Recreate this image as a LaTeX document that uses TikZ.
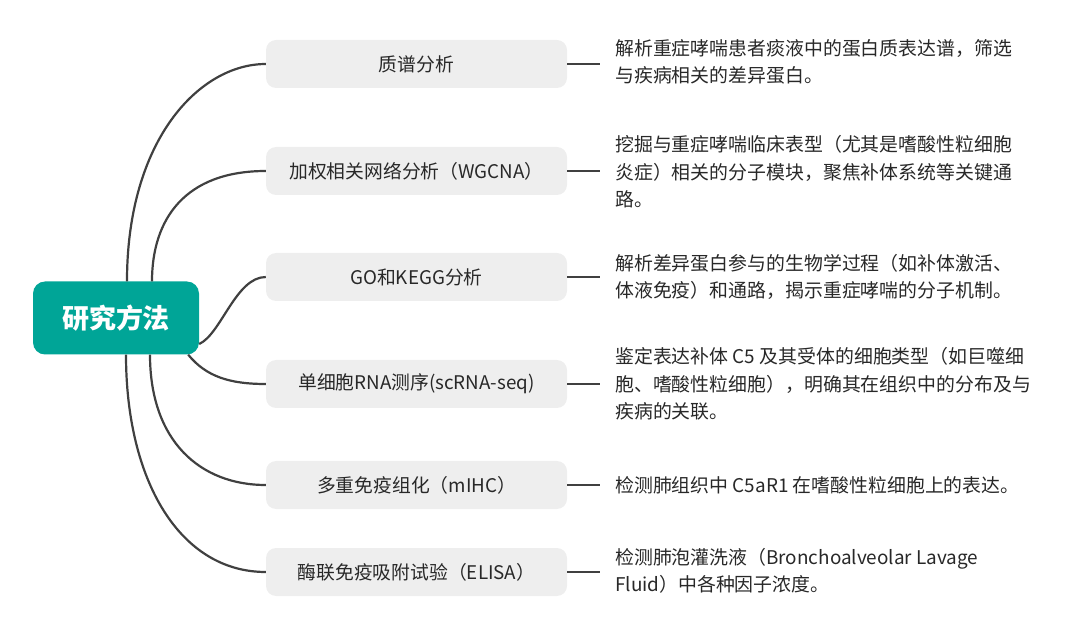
\documentclass[tikz,border=0pt]{standalone}
\usepackage{fontspec}
\setmainfont{Noto Sans CJK SC}
\usetikzlibrary{calc}
\definecolor{rootteal}{RGB}{0,165,151}
\definecolor{boxgray}{RGB}{238,238,238}
\definecolor{linegray}{RGB}{64,64,64}
\definecolor{txt}{RGB}{40,40,40}
\tikzset{
  rootbox/.style={fill=rootteal, rounded corners=12pt, minimum width=166pt, minimum height=73pt, text=white, font=\fontsize{27}{31}\selectfont\bfseries, inner sep=0pt},
  methodbox/.style={fill=boxgray, rounded corners=10pt, minimum width=301pt, minimum height=48pt, text=txt, font=\fontsize{18.8}{22}\selectfont, inner sep=0pt},
  desc/.style={anchor=west, align=left, text=txt, inner sep=0pt, font=\fontsize{18.9}{27.5}\selectfont},
  branch/.style={draw=linegray, line width=2.2pt},
  tick/.style={draw=linegray, line width=2.2pt}
}
\begin{document}
\begin{tikzpicture}[x=1pt, y=-1pt]
\useasboundingbox (0,0) rectangle (1080,636);
\node[rootbox] (root) at (116,318) {研究方法};
\node[methodbox] (b1) at (416.5,64) {质谱分析};
\node[methodbox] (b2) at (416.5,171) {加权相关网络分析（WGCNA）};
\node[methodbox] (b3) at (416.5,277) {GO和KEGG分析};
\node[methodbox] (b4) at (416.5,384) {单细胞RNA测序(scRNA-seq)};
\node[methodbox] (b5) at (416.5,485) {多重免疫组化（mIHC）};
\node[methodbox] (b6) at (416.5,572) {酶联免疫吸附试验（ELISA）};

\node[desc] (d1) at (615,62) {解析重症哮喘患者痰液中的蛋白质表达谱，筛选\\与疾病相关的差异蛋白。};
\node[desc] (d2) at (615,172) {挖掘与重症哮喘临床表型（尤其是嗜酸性粒细胞\\炎症）相关的分子模块，聚焦补体系统等关键通\\路。};
\node[desc] (d3) at (615,277) {解析差异蛋白参与的生物学过程（如补体激活、\\体液免疫）和通路，揭示重症哮喘的分子机制。};
\node[desc] (d4) at (615,384) {鉴定表达补体 C5 及其受体的细胞类型（如巨噬细\\胞、嗜酸性粒细胞），明确其在组织中的分布及与\\疾病的关联。};
\node[desc] (d5) at (615,485) {检测肺组织中 C5aR1 在嗜酸性粒细胞上的表达。};
\node[desc] (d6) at (615,571) {检测肺泡灌洗液（Bronchoalveolar Lavage\\Fluid）中各种因子浓度。};

% branches from root
\draw[branch] ([xshift=11pt]root.north) .. controls ($([xshift=11pt]root.north)+(0,-142)$) and ($(b1.west)+(-66,0)$) .. (b1.west);
\draw[branch] ([xshift=36pt]root.north) .. controls ($([xshift=36pt]root.north)+(0,-62)$) and ($(b2.west)+(-81,0)$) .. (b2.west);
\draw[branch] ([yshift=-26pt]root.east) .. controls ($([yshift=-26pt]root.east)+(22,-10)$) and ($(b3.west)+(-30,0)$) .. (b3.west);
\draw[branch] ([xshift=-11pt]root.south east) .. controls ($([xshift=-11pt]root.south east)+(18,22)$) and ($(b4.west)+(-36,0)$) .. (b4.west);
\draw[branch] ([xshift=34pt]root.south) .. controls ($([xshift=34pt]root.south)+(0,86)$) and ($(b5.west)+(-66,0)$) .. (b5.west);
\draw[branch] ([xshift=10pt]root.south) .. controls ($([xshift=10pt]root.south)+(0,126)$) and ($(b6.west)+(-86,0)$) .. (b6.west);

% ticks to descriptions
\foreach \i in {1,...,6}{
  \draw[tick] (b\i.east) -- ([xshift=-15pt]b\i.east -| d\i.west);
}
\end{tikzpicture}
\end{document}
